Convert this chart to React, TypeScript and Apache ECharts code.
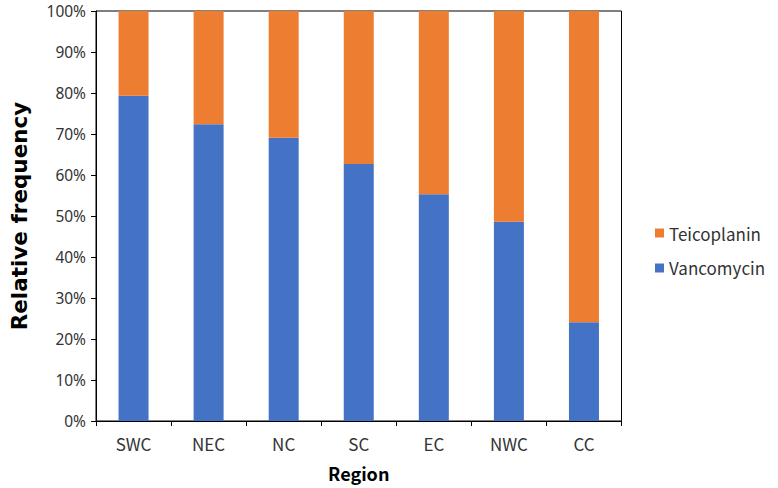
import React, { useEffect, useRef } from "react";
import * as echarts from "echarts";

const regions = ["SWC", "NEC", "NC", "SC", "EC", "NWC", "CC"];
const vancomycin = [79.3, 72.4, 69.1, 62.7, 55.3, 48.6, 24.1];
const teicoplanin = [20.7, 27.6, 30.9, 37.3, 44.7, 51.4, 75.9];
const yTicks = [0, 10, 20, 30, 40, 50, 60, 70, 80, 90, 100];

const FONT = "'Noto Sans CJK SC', 'Noto Sans', sans-serif";
const LABEL = "#333333";

export default function App() {
  const ref = useRef<HTMLDivElement>(null);
  useEffect(() => {
    if (!ref.current) return;
    const chart = echarts.init(ref.current, null, { renderer: "svg" });
    chart.setOption({
      animation: false,
      backgroundColor: "#ffffff",
      textStyle: { fontFamily: FONT },
      grid: {
        left: 90.5,
        top: 11,
        width: 531,
        height: 410,
        show: true,
        borderColor: "#000000",
        borderWidth: 1,
        containLabel: false,
      },
      legend: {
        orient: "vertical",
        left: 655,
        top: 224.5,
        padding: 0,
        itemWidth: 9,
        itemHeight: 9,
        itemGap: 18,
        icon: "rect",
        textStyle: { fontFamily: FONT, fontSize: 17, color: LABEL },
        data: ["Teicoplanin", "Vancomycin"],
      },
      xAxis: {
        type: "category",
        data: regions,
        name: "Region",
        nameLocation: "middle",
        nameGap: 43,
        nameTextStyle: { fontFamily: FONT, fontSize: 18, fontWeight: "bold", color: "#000000" },
        axisLine: { lineStyle: { color: "#000000", width: 1 } },
        axisTick: { show: true, length: 5, lineStyle: { color: "#000000" } },
        axisLabel: { fontFamily: FONT, fontSize: 17, color: LABEL, margin: 14 },
      },
      yAxis: {
        type: "value",
        min: 0,
        max: 100,
        interval: 10,
        name: "Relative frequency",
        nameLocation: "middle",
        nameGap: 66,
        nameTextStyle: {
          fontFamily: "'DejaVu Sans', sans-serif",
          fontSize: 21.5,
          fontWeight: "bold",
          color: "#000000",
        },
        axisLine: { show: true, lineStyle: { color: "#000000", width: 1 } },
        axisTick: { show: true, length: 5, lineStyle: { color: "#000000" } },
        splitLine: { show: false },
        axisLabel: {
          fontFamily: "'Noto Sans', sans-serif",
          fontSize: 15.5,
          lineHeight: 14,
          color: LABEL,
          margin: 10,
          formatter: (v: number) => (yTicks.includes(v) ? `${v}%` : ""),
        },
      },
      series: [
        {
          name: "Vancomycin",
          type: "bar",
          stack: "total",
          data: vancomycin,
          barWidth: 30,
          itemStyle: { color: "#4472C4" },
        },
        {
          name: "Teicoplanin",
          type: "bar",
          stack: "total",
          data: teicoplanin,
          barWidth: 30,
          itemStyle: { color: "#ED7D31" },
        },
      ],
    });
    return () => chart.dispose();
  }, []);
  return (
    <div
      ref={ref}
      style={{ position: "fixed", left: 0, top: 0, width: 778, height: 488 }}
    />
  );
}
